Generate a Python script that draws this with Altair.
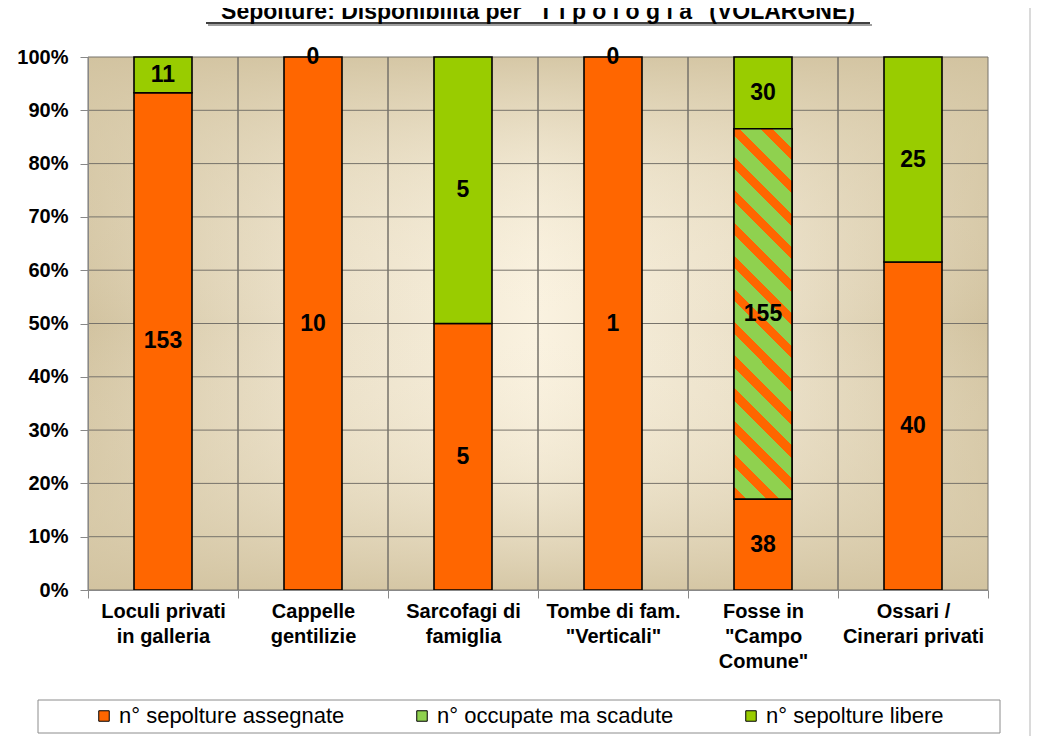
import altair as alt
import pandas as pd

# ---------------- data ----------------
categories = [
    "Loculi privati\nin galleria",
    "Cappelle\ngentilizie",
    "Sarcofagi di\nfamiglia",
    "Tombe di fam.\n\"Verticali\"",
    "Fosse in\n\"Campo\nComune\"",
    "Ossari /\nCinerari privati",
]
series = ["n° sepolture assegnate", "n° occupate ma scadute", "n° sepolture libere"]
assegnate = [153, 10, 5, 1, 38, 40]
scadute = [0, 0, 0, 0, 155, 0]
libere = [11, 0, 5, 0, 30, 25]
y_ticks = [0.0, 0.1, 0.2, 0.3, 0.4, 0.5, 0.6, 0.7, 0.8, 0.9, 1.0]
title_text = 'Sepolture: Disponibilità per "T i p o l o g i a" (VOLARGNE)'

rows = []
for i, c in enumerate(categories):
    for k, vals in enumerate([assegnate, scadute, libere]):
        rows.append({"cat": c, "serie": series[k], "ord": k, "n": vals[i]})
df = pd.DataFrame(rows)
one = pd.DataFrame({"a": [0]})

# ---------------- style ----------------
W, H = 900, 533
FONT = "Liberation Sans"
ORANGE = "#ff6600"
GREEN = "#99cc00"
HATCH_GREEN = "#8fd14f"
GRID = "#77736b"

y_scale = alt.Scale(domain=[0, 1], nice=False, zero=True)
x_sort = categories
x_scale = alt.Scale(paddingInner=0, paddingOuter=0)

x_axis = alt.Axis(labelExpr="isValid(datum.value) ? split(datum.value, '\\n') : ''", labelAngle=0,
                  labelFontSize=20, labelFontWeight="bold", labelFont=FONT, labelColor="black",
                  labelLineHeight=25, labelPadding=3, tickBand="extent", tickSize=8,
                  tickColor="#888888", domainColor="#888888", grid=False, zindex=1,
                  labelBaseline="top", title=None)
y_axis = alt.Axis(values=y_ticks, format=".0%", labelFontSize=20, labelFontWeight="bold",
                  labelFont=FONT, labelColor="black", labelPadding=12, tickSize=8,
                  tickColor="#888888", domainColor="#888888", grid=False, zindex=1, title=None)


def X(field, **kw):
    return alt.X(field, sort=x_sort, scale=x_scale, axis=x_axis, title=None, **kw)


def Y(field):
    return alt.Y(field, scale=y_scale, axis=y_axis, title=None)


# diagonal stripes as a hard-stop linear gradient
bar_w, seg_h = 58.0, 370.0
kk = 1.13
gx2 = kk * bar_w / seg_h
L2 = gx2 ** 2 + kk ** 2
t_per_px = kk / seg_h / L2
period = 33 * t_per_px
stops = []
t = 0.0
while t < 1.0:
    a = min(t + 0.38 * period, 1.0)
    b = min(t + period, 1.0)
    stops += [alt.GradientStop(offset=t, color=ORANGE), alt.GradientStop(offset=a, color=ORANGE),
              alt.GradientStop(offset=a, color=HATCH_GREEN), alt.GradientStop(offset=b, color=HATCH_GREEN)]
    t = b
hatch = alt.LinearGradient(gradient="linear", stops=stops, x1=0, y1=1, x2=gx2, y2=1 - kk)

# background (rectangular "from centre" look from two gradients)
DARK = "#d2c3a0"
bg_h = alt.LinearGradient(gradient="linear", x1=0, y1=0, x2=1, y2=0, stops=[
    alt.GradientStop(offset=0, color=DARK), alt.GradientStop(offset=0.22, color="#e8ddc4"),
    alt.GradientStop(offset=0.5, color="#faf2e0"), alt.GradientStop(offset=0.78, color="#e8ddc4"),
    alt.GradientStop(offset=1, color=DARK)])
bg_v = alt.LinearGradient(gradient="linear", x1=0, y1=0, x2=0, y2=1, stops=[
    alt.GradientStop(offset=0, color="rgba(210,195,160,0.9)"), alt.GradientStop(offset=0.22, color="rgba(225,213,184,0.35)"),
    alt.GradientStop(offset=0.5, color="rgba(250,242,224,0)"), alt.GradientStop(offset=0.78, color="rgba(225,213,184,0.35)"),
    alt.GradientStop(offset=1, color="rgba(210,195,160,0.9)")])

background = alt.Chart(one).mark_rect(fill=bg_h).encode(
    x=alt.value(0), x2=alt.value(W), y=alt.value(0), y2=alt.value(H))
background2 = alt.Chart(one).mark_rect(fill=bg_v).encode(
    x=alt.value(0), x2=alt.value(W), y=alt.value(0), y2=alt.value(H))

hgrid = alt.Chart(pd.DataFrame({"t": y_ticks})).mark_rule(color=GRID, strokeWidth=1).encode(
    y=Y("t:Q"))
cat_df = pd.DataFrame({"cat": categories})
vgrid = alt.Chart(cat_df).mark_rule(color=GRID, strokeWidth=1).encode(
    x=X("cat:N", bandPosition=0))
vgrid_end = alt.Chart(cat_df).mark_rule(color=GRID, strokeWidth=1).encode(
    x=X("cat:N", bandPosition=1))

stacked = (
    alt.Chart(df)
    .transform_joinaggregate(total="sum(n)", groupby=["cat"])
    .transform_calculate(pct="datum.n / datum.total")
    .transform_stack(stack="pct", groupby=["cat"], as_=["y0", "y1"],
                     sort=[alt.SortField("ord", order="ascending")])
    .transform_calculate(ymid="(datum.y0 + datum.y1) / 2")
)

bars = stacked.transform_filter("datum.n > 0").mark_bar(size=58, stroke="black", strokeWidth=1.6).encode(
    x=X("cat:N"), y=Y("y0:Q"), y2="y1:Q",
    color=alt.Color("serie:N", scale=alt.Scale(domain=series, range=[ORANGE, HATCH_GREEN, GREEN]),
                    legend=alt.Legend(title=None, orient="none", legendX=5, legendY=648,
                                      direction="horizontal", symbolType="square", symbolSize=110,
                                      symbolStrokeColor="black", symbolStrokeWidth=1,
                                      labelFontSize=22, labelFont=FONT, labelColor="black",
                                      labelLimit=400, columnPadding=66, labelOffset=4, padding=0)),
)

hatched = stacked.transform_filter("datum.ord == 1 && datum.n > 0").mark_bar(
    size=58, stroke="black", strokeWidth=1.6, fill=hatch).encode(
    x=X("cat:N"), y=Y("y0:Q"), y2="y1:Q")

labels = stacked.transform_filter("datum.n > 0 || datum.ord == 2").mark_text(
    font=FONT, fontSize=23, fontWeight="bold", color="black", baseline="middle", align="center").encode(
    x=X("cat:N"), y=Y("ymid:Q"), text=alt.Text("n:Q"))

legend_box = alt.Chart(one).mark_rect(fill="white", stroke="#8c8c8c", strokeWidth=1).encode(
    x=alt.value(-50), x2=alt.value(912), y=alt.value(643), y2=alt.value(676))

title = alt.Chart(one).mark_text(text=title_text, font=FONT, fontSize=23, fontWeight="bold",
                                 align="center", baseline="alphabetic", color="black").encode(
    x=alt.value(450), y=alt.value(-38))
underline_shadow = alt.Chart(one).mark_rule(color="#a0a0a0", strokeWidth=2).encode(
    x=alt.value(120), x2=alt.value(784), y=alt.value(-32))
underline = alt.Chart(one).mark_rule(color="black", strokeWidth=1.6).encode(
    x=alt.value(118), x2=alt.value(782), y=alt.value(-34))
page_edge = alt.Chart(one).mark_rule(color="#b5b5b5", strokeWidth=1).encode(
    x=alt.value(942), y=alt.value(-57), y2=alt.value(687))

chart = alt.layer(
    background, background2, hgrid, vgrid, vgrid_end, bars, hatched, labels,
    legend_box, title, underline_shadow, underline, page_edge,
).properties(
    width=W, height=H,
    autosize=alt.AutoSizeParams(type="none"),
    padding={"left": 80, "top": 49, "right": 51, "bottom": 146},
    background="white",
).configure_view(stroke=None)

chart.save("out.html", embed_options={"renderer": "svg", "actions": False})
